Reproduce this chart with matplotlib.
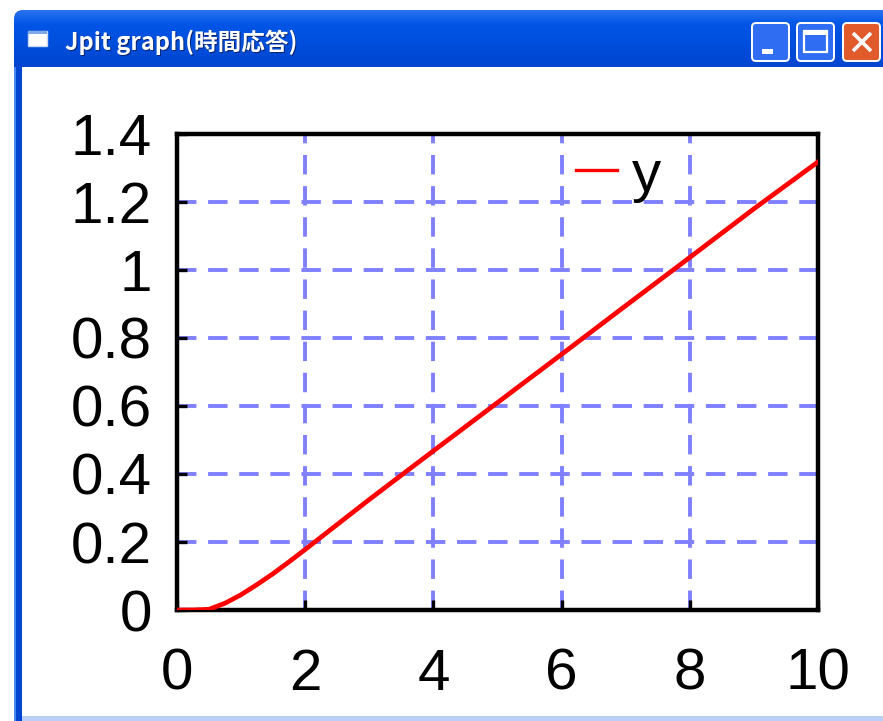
import matplotlib
matplotlib.use('Agg')
import matplotlib.pyplot as plt
from matplotlib.patches import FancyBboxPatch, Rectangle
import numpy as np

# Time response samples (t, y)
t = [0.0, 0.25, 0.5, 0.75, 1.0, 1.25, 1.5, 1.75, 2.0, 3.0, 4.0, 5.0, 6.0, 7.0, 8.0, 9.0, 10.0]
y = [0.0, 0.0, 0.002, 0.02, 0.045, 0.075, 0.107, 0.142, 0.178, 0.325, 0.468, 0.61, 0.752, 0.895, 1.037, 1.18, 1.318]

x_ticks = [0, 2, 4, 6, 8, 10]
y_ticks = [0, 0.2, 0.4, 0.6, 0.8, 1.0, 1.2, 1.4]
y_tick_labels = ['0', '0.2', '0.4', '0.6', '0.8', '1', '1.2', '1.4']
window_title = 'Jpit graph(時間応答)'

W, H = 883, 721
fig = plt.figure(figsize=(W / 100, H / 100), dpi=100, facecolor='white')

# window chrome, drawn in pixel coordinates
bg = fig.add_axes([0, 0, 1, 1])
bg.set_xlim(0, W)
bg.set_ylim(H, 0)
bg.axis('off')

# title bar gradient
grad = np.linspace(0, 1, 60)
bar_colors = np.zeros((60, 1, 3))
top = np.array([0x2a, 0x72, 0xf0]) / 255
mid = np.array([0x00, 0x55, 0xe6]) / 255
bot = np.array([0x00, 0x46, 0xd0]) / 255
for i, g in enumerate(grad):
    if g < 0.25:
        c = top + (mid - top) * g / 0.25
    else:
        c = mid + (bot - mid) * (g - 0.25) / 0.75
    bar_colors[i, 0] = c
title_bar = FancyBboxPatch((14, 10), W + 20, 90, boxstyle='round,pad=0,rounding_size=9',
                           facecolor='none', edgecolor='none')
bg.add_patch(title_bar)
im = bg.imshow(bar_colors, extent=(14, W + 10, 67, 10), aspect='auto', zorder=1)
im.set_clip_path(title_bar)

# left and bottom borders
bg.add_patch(Rectangle((14, 67), 8, H - 67, facecolor='#0046d0', edgecolor='none', zorder=1))
bg.add_patch(Rectangle((14, 67), 2, H - 67, facecolor='#4a86f0', edgecolor='none', zorder=1))
bg.add_patch(Rectangle((22, 716), W, 5, facecolor='#b9cff5', edgecolor='none', zorder=1))

# window icon
bg.add_patch(Rectangle((28, 31), 19, 15, facecolor='white', edgecolor='#c8d8f0', lw=1, zorder=2))
bg.add_patch(Rectangle((28, 31), 19, 3, facecolor='#7fa8e8', edgecolor='none', zorder=3))

# title text with a dark shadow
title_font = ['Noto Sans CJK JP', 'DejaVu Sans']
bg.text(66.5, 43.5, window_title, color='#0a2470', fontsize=17, fontweight='bold',
        family=title_font, va='center', ha='left', zorder=3)
bg.text(65, 42, window_title, color='white', fontsize=17, fontweight='bold',
        family=title_font, va='center', ha='left', zorder=4)

# caption buttons
for x0, face in [(752, '#2f6ef2'), (797, '#2f6ef2'), (843, '#e05a2c')]:
    bg.add_patch(FancyBboxPatch((x0, 23), 37, 38, boxstyle='round,pad=0,rounding_size=4',
                                facecolor=face, edgecolor='white', lw=1.4, zorder=3))
bg.add_patch(Rectangle((762, 49), 11, 5, facecolor='white', edgecolor='none', zorder=4))
bg.add_patch(Rectangle((804, 31), 23, 21, facecolor='none', edgecolor='white', lw=1.6, zorder=4))
bg.add_patch(Rectangle((804, 31), 23, 4, facecolor='white', edgecolor='none', zorder=4))
bg.plot([853, 871], [33, 51], color='white', lw=2.6, zorder=4, solid_capstyle='butt')
bg.plot([853, 871], [51, 33], color='white', lw=2.6, zorder=4, solid_capstyle='butt')

# plot area
ax = fig.add_axes([177 / W, (H - 610) / H, (818 - 177) / W, (610 - 134) / H])
ax.plot(t, y, color='red', lw=3.4, label='y', zorder=3)
ax.set_xlim(0, 10)
ax.set_ylim(0, 1.4)
ax.set_xticks(x_ticks)
ax.set_yticks(y_ticks)
ax.set_yticklabels(y_tick_labels)
ax.grid(True, color='#8080ff', lw=2.8, linestyle=(0, (5, 3)))
ax.set_axisbelow(True)
for s in ax.spines.values():
    s.set_linewidth(3.2)
    s.set_color('black')
ax.tick_params(direction='in', length=7, width=2.4, colors='black', labelsize=42,
               pad=18, top=False, right=False)
ax.tick_params(axis='x', pad=27)
for lbl in ax.get_xticklabels() + ax.get_yticklabels():
    lbl.set_family(['Liberation Sans', 'DejaVu Sans'])

leg = ax.legend(loc='upper left', bbox_to_anchor=(0.6, 1.0), frameon=False,
                handlelength=0.7, handletextpad=0.25, borderaxespad=0, borderpad=0.25,
                prop={'family': ['Liberation Sans', 'DejaVu Sans'], 'size': 42})
for line in leg.get_lines():
    line.set_linewidth(2.4)

fig.savefig('out.png', dpi=100, facecolor='white')
